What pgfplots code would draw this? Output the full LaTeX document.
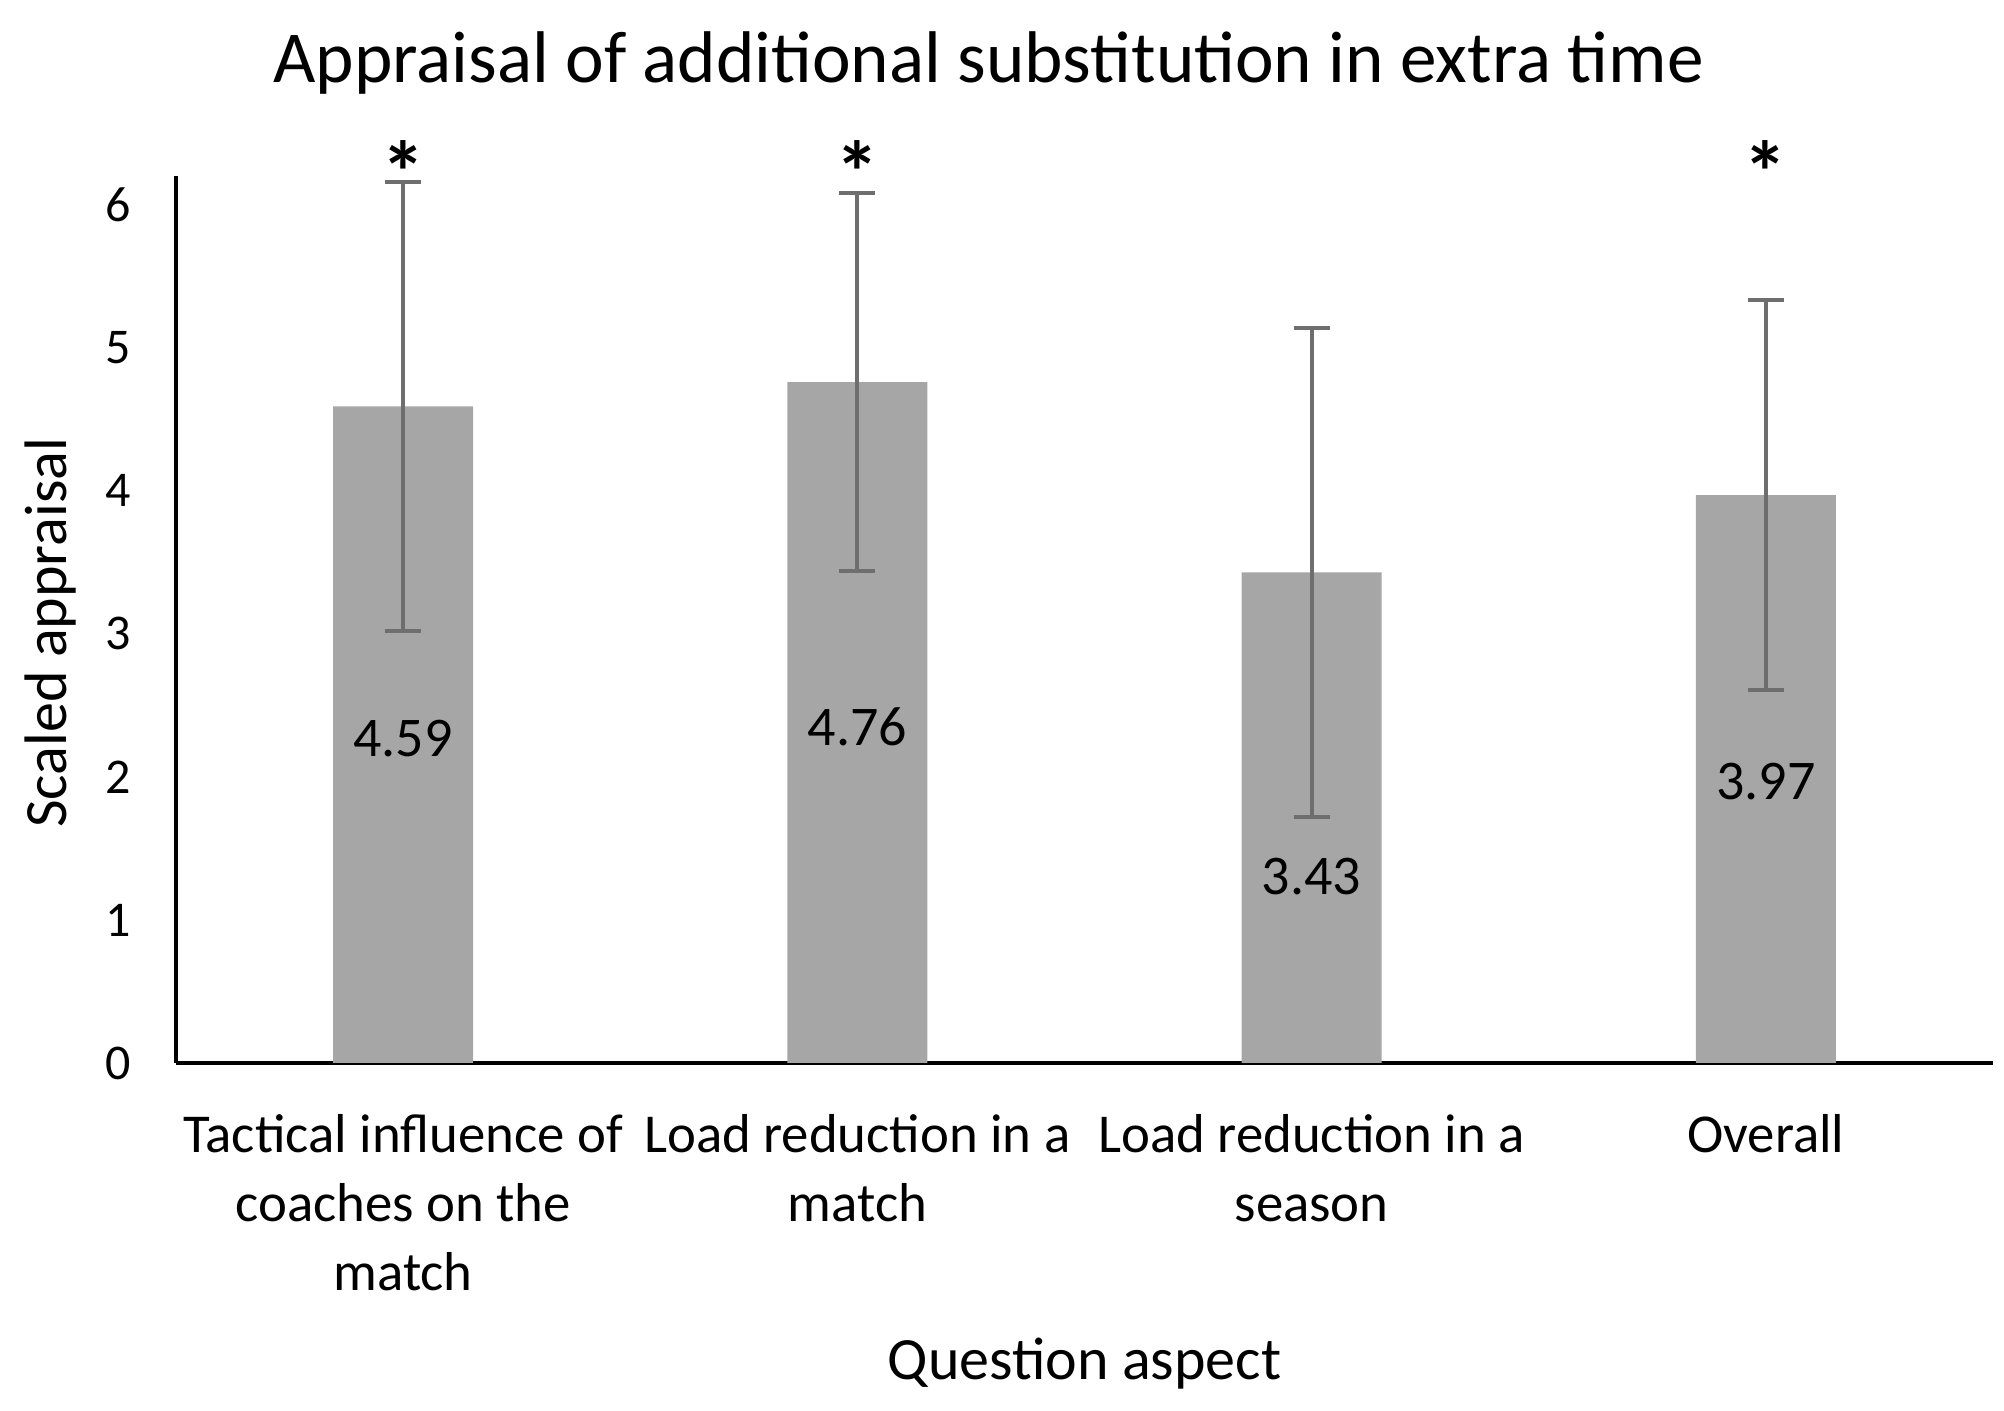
\documentclass[border=0pt]{standalone}
\usepackage{pgfplots}
\pgfplotsset{compat=1.18}
\usepackage{fontspec}
\setmainfont{Carlito}
\definecolor{bargray}{HTML}{A6A6A6}
\definecolor{errgray}{HTML}{6E6E6E}
\begin{document}
\begin{tikzpicture}
\begin{axis}[
  scale only axis, width=454.25pt, height=221.75pt,
  xmin=-0.5, xmax=3.5, ymin=0, ymax=6.2,
  axis x line=bottom, axis y line=left,
  axis line style={-, line width=1pt, black},
  xtick={0,1,2,3},
  xticklabels={{Tactical influence of\\coaches on the\\match},{Load reduction in a\\match},{Load reduction in a\\season},{Overall}},
  ytick={0,1,2,3,4,5,6},
  major tick length=0pt,
  /pgf/number format/assume math mode=true,
  yticklabel style={font=\fontsize{12.5}{15}\selectfont, inner sep=0pt, anchor=east, xshift=-11pt},
  xticklabel style={font=\fontsize{13.7}{17.25}\selectfont, align=center, inner sep=0pt, anchor=north, yshift=-12.7pt},
  title={Appraisal of additional substitution in extra time},
  title style={font=\fontsize{18.3}{22}\selectfont, at={(axis description cs:0.4473,1.10)}, anchor=center, inner sep=0pt},
  xlabel={Question aspect},
  xlabel style={font=\fontsize{15}{18}\selectfont, at={(axis description cs:0.5,-0.3394)}, anchor=center, inner sep=0pt},
  ylabel={Scaled appraisal},
  ylabel style={font=\fontsize{15}{18}\selectfont, at={(axis description cs:-0.0688,0.485)}, anchor=center, inner sep=0pt},
  clip=false,
]
\addplot[ybar, bar width=35pt, fill=bargray, draw=none,
  error bars/.cd, y dir=both, y explicit,
  error bar style={color=errgray, line width=1pt},
  error mark options={rotate=90, mark size=4.5pt, line width=1pt, color=errgray}]
  coordinates {
  (0,4.59) +- (0,1.57)
  (1,4.76) +- (0,1.32)
  (2,3.43) +- (0,1.71)
  (3,3.97) +- (0,1.36)
  };
\addplot[draw=none, mark=none, point meta=explicit symbolic,
  nodes near coords,
  every node near coord/.append style={font=\fontsize{14}{17}\selectfont, anchor=center, inner sep=0pt, text=black}]
  coordinates {
  (0,2.27) [4.59]
  (1,2.35) [4.76]
  (2,1.30) [3.43]
  (3,1.97) [3.97]
  };
\addplot[draw=none, mark=none,
  nodes near coords={\bfseries *},
  every node near coord/.append style={font=\fontsize{22}{26}\selectfont, anchor=base, inner sep=0pt, text=black}]
  coordinates {
  (0,6.01)
  (1,6.01)
  (3,6.01)
  };
\end{axis}
\pgfresetboundingbox
\path[use as bounding box] ([xshift=-44pt,yshift=-87pt]current axis.south west) rectangle ([xshift=2.75pt,yshift=44pt]current axis.north east);
\end{tikzpicture}
\end{document}
